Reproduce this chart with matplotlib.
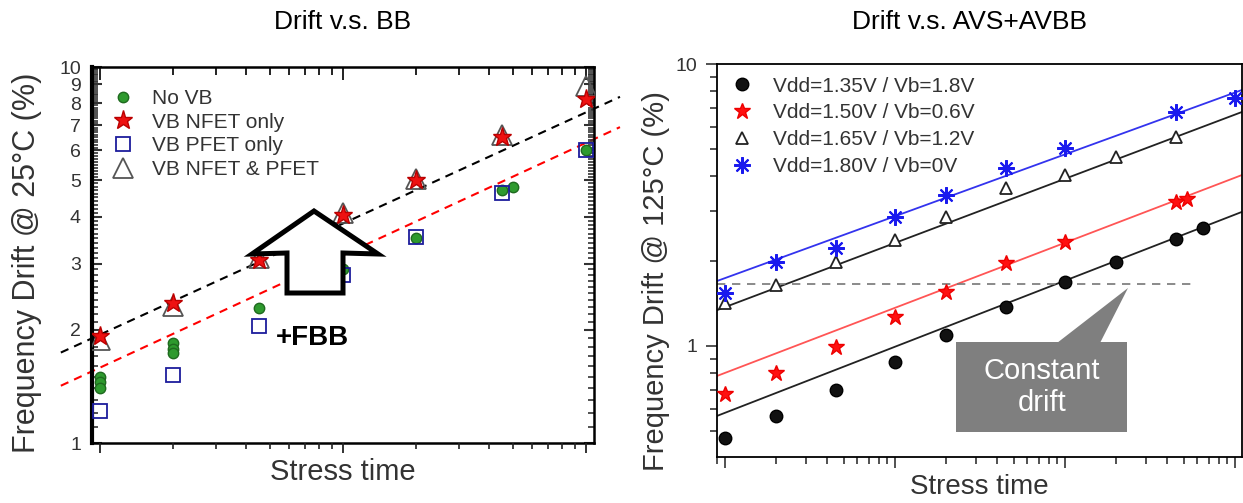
import numpy as np
import matplotlib.pyplot as plt
from matplotlib.patches import Polygon, Rectangle
from matplotlib.ticker import FixedLocator, NullFormatter, LogLocator, FixedFormatter

plt.rcParams['font.family'] = ['Liberation Sans', 'DejaVu Sans']

# ---- left panel data (Drift v.s. BB) ----
t_bb = [1, 2, 4.5, 10, 20, 45, 100]
novb_t = [1, 1, 1, 2, 2, 2, 4.5, 10, 20, 45, 50, 100]
novb = [1.50, 1.45, 1.40, 1.85, 1.78, 1.73, 2.28, 2.9, 3.5, 4.7, 4.8, 6.0]
vb_nfet = [1.93, 2.35, 3.07, 4.05, 5.0, 6.5, 8.2]
vb_pfet = [1.22, 1.52, 2.05, 2.8, 3.53, 4.62, 6.0]
vb_both = [1.88, 2.32, 3.1, 4.1, 5.05, 6.6, 8.9]
guide_t = [0.69, 138]
guide_black = [1.74, 8.33]
guide_red = [1.42, 6.92]

# ---- right panel data (Drift v.s. AVS+AVBB) ----
v135_t = [1, 2, 4.5, 10, 20, 45, 100, 200, 450, 650]
v135 = [0.47, 0.565, 0.70, 0.877, 1.09, 1.37, 1.69, 1.99, 2.39, 2.62]
v150_t = [1, 2, 4.5, 10, 20, 45, 100, 450, 520]
v150 = [0.676, 0.80, 0.99, 1.27, 1.55, 1.97, 2.34, 3.24, 3.32]
v165_t = [1, 2, 4.5, 10, 20, 45, 100, 200, 450]
v165 = [1.42, 1.65, 1.99, 2.38, 2.87, 3.63, 4.04, 4.68, 5.51]
v180_t = [1, 2, 4.5, 10, 20, 45, 100, 450, 1000]
v180 = [1.54, 1.99, 2.23, 2.87, 3.43, 4.28, 5.04, 6.76, 7.57]
fit_t = [0.897, 1099]
fit135 = [0.565, 2.99]
fit150 = [0.783, 4.04]
fit165 = [1.34, 6.76]
fit180 = [1.70, 8.09]
const_t = [0.897, 582]
const_drift = [1.66, 1.66]

W, H = 1243, 503
fig = plt.figure(figsize=(W / 100, H / 100), dpi=100)


def fig_xy(pts):
    return [(x / W, 1 - y / H) for x, y in pts]


# ================= left =================
ax1 = fig.add_axes([92 / W, 60 / H, 502 / W, 376 / H])
ax1.set_xscale('log')
ax1.set_yscale('log')
ax1.set_xlim(0.927, 107.9)
ax1.set_ylim(1, 10)

ax1.plot(guide_t, guide_black, ls=(0, (4, 3)), color='black', lw=1.5, clip_on=False, zorder=1)
ax1.plot(guide_t, guide_red, ls=(0, (4, 3)), color='red', lw=1.5, clip_on=False, zorder=1)

ax1.plot(novb_t, novb, 'o', ms=7.5, color='#2e9a2e', mec='#1f6a1f', label='No VB', zorder=3)
ax1.plot(t_bb, vb_pfet, 's', ms=10, mfc='none', mec='#1c1c9c', mew=1.3, label='VB PFET only', zorder=3)
ax1.plot(t_bb, vb_both, '^', ms=15, mfc='none', mec='#555555', mew=1.3, label='VB NFET & PFET', zorder=3)
ax1.plot(t_bb, vb_nfet, '*', ms=14, color='#ee1111', mec='#bb0000', label='VB NFET only', zorder=4)

h, l = ax1.get_legend_handles_labels()
order = [0, 3, 1, 2]
leg1 = ax1.legend([h[i] for i in order], [l[i] for i in order], loc='upper left',
                  bbox_to_anchor=(0.0, 0.98), frameon=False, fontsize=15,
                  handlelength=1.6, handletextpad=0.6, labelspacing=0.22, borderaxespad=0.3)
for txt in leg1.get_texts():
    txt.set_color('#333333')

yt = list(range(1, 11))
ax1.yaxis.set_major_locator(FixedLocator(yt))
ax1.yaxis.set_major_formatter(FixedFormatter([str(v) for v in yt]))
ax1.yaxis.set_minor_locator(FixedLocator([a + b / 10 for a in range(1, 10) for b in range(1, 10)]))
ax1.yaxis.set_minor_formatter(NullFormatter())
ax1.tick_params(axis='y', which='both', direction='in', left=True, right=True, labelsize=14,
                colors='#333333', pad=8)
ax1.tick_params(axis='y', which='major', length=7, width=1.5)
ax1.tick_params(axis='y', which='minor', length=4, width=1.2)

# x ticks: inward along the top edge, outward tick marks along the bottom edge
x_major = [1, 10, 100]
x_minor = [a * d for d in (1, 10) for a in range(2, 10)]
ax1.xaxis.set_major_locator(FixedLocator(x_major))
ax1.xaxis.set_minor_locator(FixedLocator(x_minor))
ax1.xaxis.set_major_formatter(NullFormatter())
ax1.xaxis.set_minor_formatter(NullFormatter())
ax1.tick_params(axis='x', which='both', direction='in', top=True, bottom=False, width=1.4,
                color='#222222')
ax1.tick_params(axis='x', which='major', length=9)
ax1.tick_params(axis='x', which='minor', length=6)
ax1.plot(x_major, [1] * len(x_major), ls='none', marker=3, ms=7, mew=1.3, color='#222222',
         clip_on=False, zorder=6)
ax1.plot(x_minor, [1] * len(x_minor), ls='none', marker=3, ms=4, mew=1.2, color='#222222',
         clip_on=False, zorder=6)
for s in ax1.spines.values():
    s.set_linewidth(1.8)
ax1.spines['left'].set_linewidth(3)

ax1.set_ylabel('Frequency Drift @ 25\u00b0C (%)', fontsize=22, color='#333333')
ax1.yaxis.set_label_coords(-0.10, 0.48)
fig.text(343 / W, 1 - 458 / H, 'Stress time', fontsize=21, color='#333333', ha='center', va='top')

# big up arrow
arrow = Polygon(fig_xy([(287, 293), (287, 253), (252, 254), (314, 211), (378, 254), (343, 253), (343, 293)]),
                closed=True, transform=fig.transFigure, facecolor='white', edgecolor='black',
                lw=3.6, joinstyle='miter', zorder=5)
fig.patches.append(arrow)
fig.text(312 / W, 1 - 338 / H, '+FBB', fontsize=20, fontweight='bold', ha='center', va='center')
fig.text(343 / W, 1 - 22 / H, 'Drift v.s. BB', fontsize=19, ha='center', va='center')

# ================= right =================
ax2 = fig.add_axes([717 / W, 46 / H, 525 / W, 393 / H])
ax2.set_xscale('log')
ax2.set_yscale('log')
ax2.set_xlim(fit_t)
ax2.set_ylim(0.404, 10)

ax2.plot(fit_t, fit135, color='#222222', lw=1.3, zorder=2)
ax2.plot(fit_t, fit150, color='#ff5555', lw=1.3, zorder=2)
ax2.plot(fit_t, fit165, color='#222222', lw=1.3, zorder=2)
ax2.plot(fit_t, fit180, color='#3333ee', lw=1.3, zorder=2)
ax2.plot(const_t, const_drift, ls=(0, (5, 4)), color='#777777', lw=1.2, zorder=2)

ax2.plot(v135_t, v135, 'o', ms=9, color='#111111', mec='#000000', label='Vdd=1.35V / Vb=1.8V', zorder=3)
ax2.plot(v150_t, v150, '*', ms=12, color='#ff1111', mec='#ee0000', label='Vdd=1.50V / Vb=0.6V', zorder=3)
ax2.plot(v165_t, v165, '^', ms=9, mfc='white', mec='#222222', mew=1.3, label='Vdd=1.65V / Vb=1.2V', zorder=3)
ax2.plot(v180_t, v180, marker=(8, 2, 0), ls='none', ms=12, color='#1a1aee', mew=1.5,
         label='Vdd=1.80V / Vb=0V', zorder=3)

leg2 = ax2.legend(loc='upper left', bbox_to_anchor=(0.0, 1.0), frameon=False, fontsize=15,
                  handlelength=1.2, handletextpad=0.9, labelspacing=0.38, borderaxespad=0.2)
for txt in leg2.get_texts():
    txt.set_color('#333333')

ax2.yaxis.set_major_locator(FixedLocator([1, 10]))
ax2.yaxis.set_major_formatter(FixedFormatter(['1', '10']))
ax2.yaxis.set_minor_locator(FixedLocator([0.4, 0.5, 0.6, 0.7, 0.8, 0.9, 2, 3, 4, 5, 6, 7, 8, 9]))
ax2.yaxis.set_minor_formatter(NullFormatter())
ax2.xaxis.set_major_formatter(NullFormatter())
ax2.xaxis.set_minor_locator(LogLocator(base=10, subs=np.arange(2, 10)))
ax2.xaxis.set_minor_formatter(NullFormatter())
ax2.tick_params(axis='both', which='both', direction='out', colors='#333333', width=1.2)
ax2.tick_params(axis='both', which='major', length=8, labelsize=14, pad=6)
ax2.tick_params(axis='both', which='minor', length=5)
for s in ax2.spines.values():
    s.set_linewidth(1.3)
ax2.set_ylabel('Frequency Drift @ 125\u00b0C (%)', fontsize=21, color='#333333')
ax2.yaxis.set_label_coords(-0.09, 0.448)
ax2.set_xlabel('Stress time', fontsize=20, color='#333333')
ax2.xaxis.set_label_coords(0.5, -0.043)

# callout
grey = '#7f7f7f'
fig.patches.append(Polygon(fig_xy([(1057, 343), (1128, 288), (1100, 343)]), closed=True,
                           transform=fig.transFigure, facecolor=grey, edgecolor='none', zorder=5))
fig.patches.append(Rectangle((956 / W, 1 - 432 / H), 171 / W, 90 / H, transform=fig.transFigure,
                             facecolor=grey, edgecolor='none', zorder=5))
fig.text(1042 / W, 1 - 387 / H, 'Constant\ndrift', fontsize=21, color='white', ha='center',
         va='center', linespacing=1.15, zorder=6)
fig.text(970 / W, 1 - 22 / H, 'Drift v.s. AVS+AVBB', fontsize=19, ha='center', va='center')

fig.savefig('out.png', dpi=100)
